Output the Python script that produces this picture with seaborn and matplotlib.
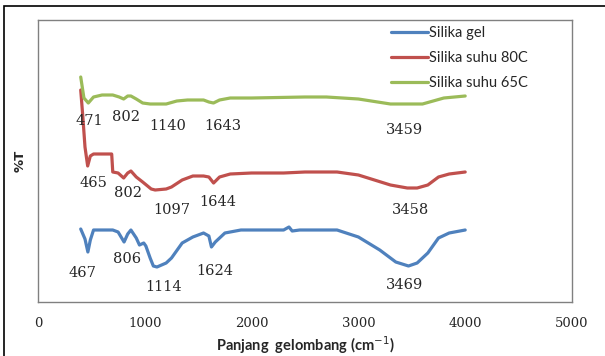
import numpy as np
import pandas as pd
import seaborn as sns
import matplotlib
matplotlib.use("Agg")
import matplotlib.pyplot as plt
from matplotlib.patches import Rectangle

# ---- data (wavenumber cm-1, relative %T) ----
wn_gel = [400, 440, 467, 490, 520, 600, 700, 750, 806, 840, 870, 920, 950, 990, 1010,
          1050, 1080, 1114, 1200, 1250, 1350, 1450, 1550, 1600, 1624, 1660, 1750, 1900,
          2300, 2350, 2380, 2450, 2800, 3000, 3200, 3350, 3469, 3550, 3650, 3750, 3850, 4000]
t_gel = [73, 63, 50, 62, 72, 72, 72, 70, 60, 68, 72, 64, 57, 59, 56,
         44, 36, 35, 39, 44, 59, 65, 69, 66, 55, 60, 69, 72,
         72, 75, 71, 72, 72, 65, 52, 40, 36, 39, 49, 64, 69, 72]

wn_80 = [400, 420, 440, 465, 490, 520, 600, 690, 700, 750, 802, 840, 870, 920, 980,
         1060, 1097, 1200, 1250, 1350, 1450, 1550, 1600, 1644, 1700, 1800, 2000, 2300,
         2500, 2800, 3000, 3300, 3458, 3550, 3650, 3750, 3850, 4000]
t_80 = [212, 185, 155, 136, 146, 148, 148, 148, 130, 129, 124, 129, 131, 125, 120,
        113, 112, 113, 115, 122, 126, 126, 125, 119, 125, 128, 129, 129,
        130, 130, 127, 117, 114, 114, 117, 125, 128, 130]

wn_65 = [400, 430, 471, 520, 600, 700, 760, 802, 840, 870, 920, 980, 1050, 1140, 1200,
         1300, 1400, 1550, 1600, 1643, 1700, 1800, 2000, 2500, 2700, 3000, 3300, 3459,
         3600, 3700, 3800, 4000]
t_65 = [225, 204, 199, 205, 207, 207, 205, 203, 206, 206, 203, 199, 198, 198, 198,
        201, 202, 202, 200, 199, 202, 204, 204, 205, 205, 203, 198, 198,
        198, 201, 204, 206]

series_names = ["Silika gel", "Silika suhu 80C", "Silika suhu 65C"]
colors = ["#4F81BD", "#C0504D", "#9BBB59"]

# peak labels: text, x position (cm-1), y position (%T)
peak_text = ["471", "802", "1140", "1643", "3459",
             "465", "802", "1097", "1644", "3458",
             "467", "806", "1114", "1624", "3469"]
peak_x = [478, 825, 1215, 1730, 3430,
          515, 843, 1255, 1685, 3485,
          412, 833, 1180, 1655, 3430]
peak_y = [181, 185, 176, 176, 172,
          119, 109, 92, 100, 92,
          29, 43, 15, 31, 17]

xticks = [0, 1000, 2000, 3000, 4000, 5000]

# ---- build dataframe ----
frames = []
for name, w, t in zip(series_names, [wn_gel, wn_80, wn_65], [t_gel, t_80, t_65]):
    frames.append(pd.DataFrame({"wn": w, "T": t, "series": name}))
df = pd.concat(frames, ignore_index=True)

sns.set_theme(style="white")
plt.rcParams["font.family"] = ["DejaVu Sans"]

fig = plt.figure(figsize=(6.05, 3.56), dpi=100)
ax = fig.add_axes([38 / 605, 1 - 302 / 356, (572 - 38) / 605, (302 - 20) / 356])

sns.lineplot(data=df, x="wn", y="T", hue="series", palette=colors,
             hue_order=series_names, sort=False, linewidth=2.3, ax=ax, legend=True)

ax.set_xlim(0, 5000)
ax.set_ylim(0, 282)
ax.set_xticks(xticks)
ax.set_xticklabels([str(v) for v in xticks], family="DejaVu Serif", fontsize=9.5)
ax.set_yticks([])
ax.tick_params(axis="x", direction="out", length=4, width=0.8, color="#808080", pad=7)
for s in ax.spines.values():
    s.set_color("#808080")
    s.set_linewidth(1.0)

ax.set_xlabel("Panjang  gelombang (cm$^{-1}$)", fontsize=10.5, fontweight="bold",
              family="Lato", labelpad=3)
ax.set_ylabel("%T", fontsize=9.5, fontweight="bold", family="DejaVu Sans", labelpad=8)

for txt, x, y in zip(peak_text, peak_x, peak_y):
    ax.text(x, y, txt, ha="center", va="center", fontsize=10.5, family="DejaVu Serif")

leg = ax.legend(loc="upper left", bbox_to_anchor=(0.652, 0.995), frameon=False,
                fontsize=10.5, handlelength=2.6, handletextpad=0.05, labelspacing=0.75,
                borderaxespad=0.0, borderpad=0.3)
for t in leg.get_texts():
    t.set_family("Lato")
for h in leg.get_lines():
    h.set_linewidth(2.3)

# outer chart frame
fig.patches.append(Rectangle((4 / 605, -0.02), 1.1, 1 - 6 / 356 + 0.02,
                             transform=fig.transFigure, fill=False,
                             edgecolor="black", linewidth=1.2))

fig.savefig("out.png", dpi=100)
